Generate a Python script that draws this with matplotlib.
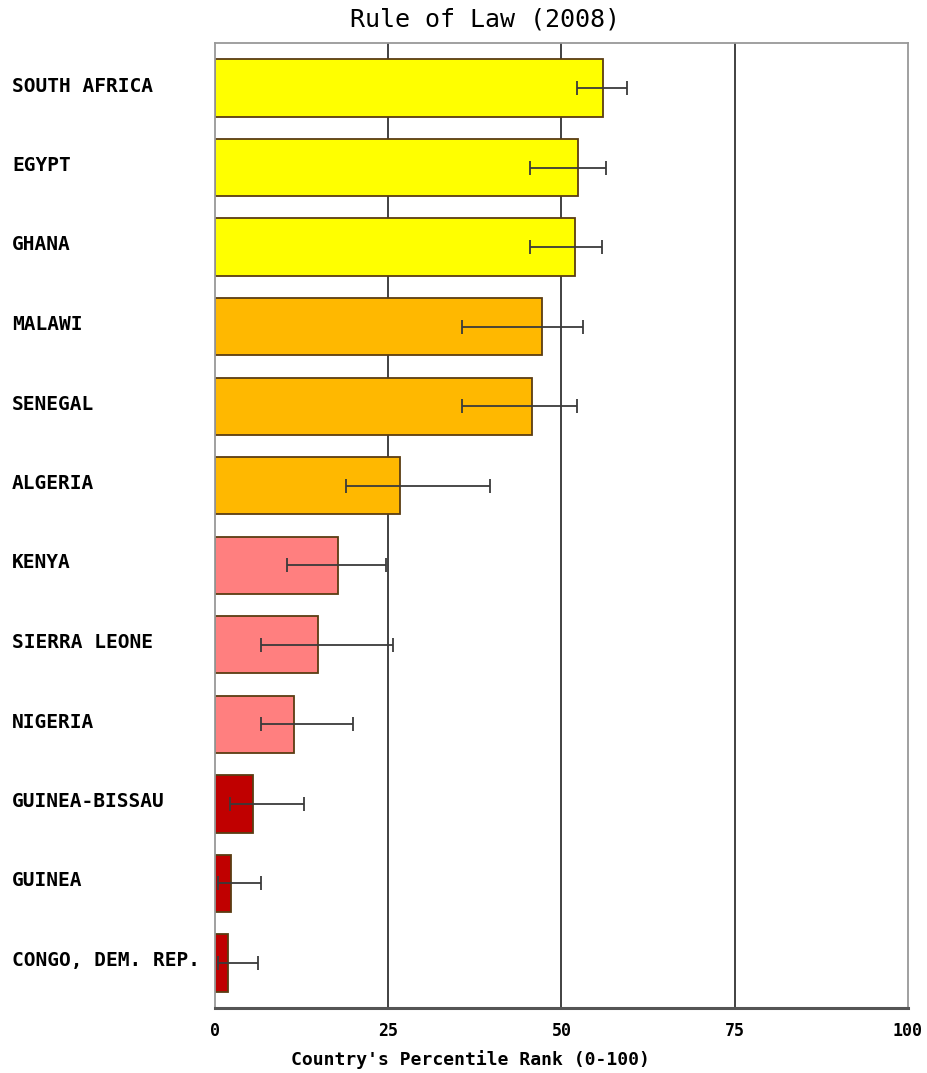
import matplotlib
matplotlib.use('Agg')
from matplotlib import pyplot as plt

##################################################
# DATA

countries = ['SOUTH AFRICA', 'EGYPT', 'GHANA', 'MALAWI', 'SENEGAL', 'ALGERIA',
             'KENYA', 'SIERRA LEONE', 'NIGERIA', 'GUINEA-BISSAU', 'GUINEA',
             'CONGO, DEM. REP.']
rank = [56.0, 52.4, 51.9, 47.2, 45.7, 26.7, 17.7, 14.9, 11.4, 5.5, 2.3, 1.9]
low = [52.2, 45.5, 45.5, 35.6, 35.6, 18.9, 10.4, 6.6, 6.6, 2.2, 0.4, 0.4]
high = [59.5, 56.4, 55.8, 53.1, 52.2, 39.7, 24.7, 25.7, 19.9, 12.8, 6.6, 6.2]
colors = ['#FFFF00', '#FFFF00', '#FFFF00', '#FFB800', '#FFB800', '#FFB800',
          '#FF7F7F', '#FF7F7F', '#FF7F7F', '#C00000', '#C00000', '#C00000']
xticks = [0, 25, 50, 75, 100]

##################################################

FONT = 'DejaVu Sans Mono'

fig = plt.figure(figsize=(9.28, 10.73), dpi=100)
ax = fig.add_axes([0.2317, 0.0606, 0.7467, 0.8993])

pos = list(range(len(countries)))
err = [[r - l for r, l in zip(rank, low)], [h - r for r, h in zip(rank, high)]]

for x in xticks[1:4]:
    ax.axvline(x, color='#333333', linewidth=1.3, zorder=0)

ax.barh(pos, rank, height=0.72, color=colors, edgecolor='#5a3d12', linewidth=1.3, zorder=2)
ax.errorbar(rank, pos, xerr=err, fmt='none', ecolor='#3a3a3a', elinewidth=1.3,
            capsize=5, capthick=1.3, zorder=3)

ax.set_xlim(0, 100)
ax.set_ylim(len(countries) - 1 + 0.566, -0.566)
ax.set_xticks(xticks)
ax.set_xticklabels([str(x) for x in xticks], family=FONT, fontweight='bold', fontsize=12)
ax.set_yticks([])
ax.tick_params(axis='x', length=0, pad=10)

for sp in ['top', 'right', 'left']:
    ax.spines[sp].set_color('#999999')
    ax.spines[sp].set_linewidth(1.3)
ax.spines['bottom'].set_color('#555555')
ax.spines['bottom'].set_linewidth(2.2)

for p, name in zip(pos, countries):
    fig.text(12 / 928, 1 - (86 + p * 79.5) / 1073, name, family=FONT, fontweight='bold',
             fontsize=14, va='center', ha='left')

fig.text(0.523, 1 - 20 / 1073, 'Rule of Law (2008)', family=FONT, fontsize=18,
         ha='center', va='center')
fig.text(0.507, 1 - 1060 / 1073, "Country's Percentile Rank (0-100)", family=FONT,
         fontweight='bold', fontsize=13, ha='center', va='center')

plt.savefig('out.png', dpi=100)
